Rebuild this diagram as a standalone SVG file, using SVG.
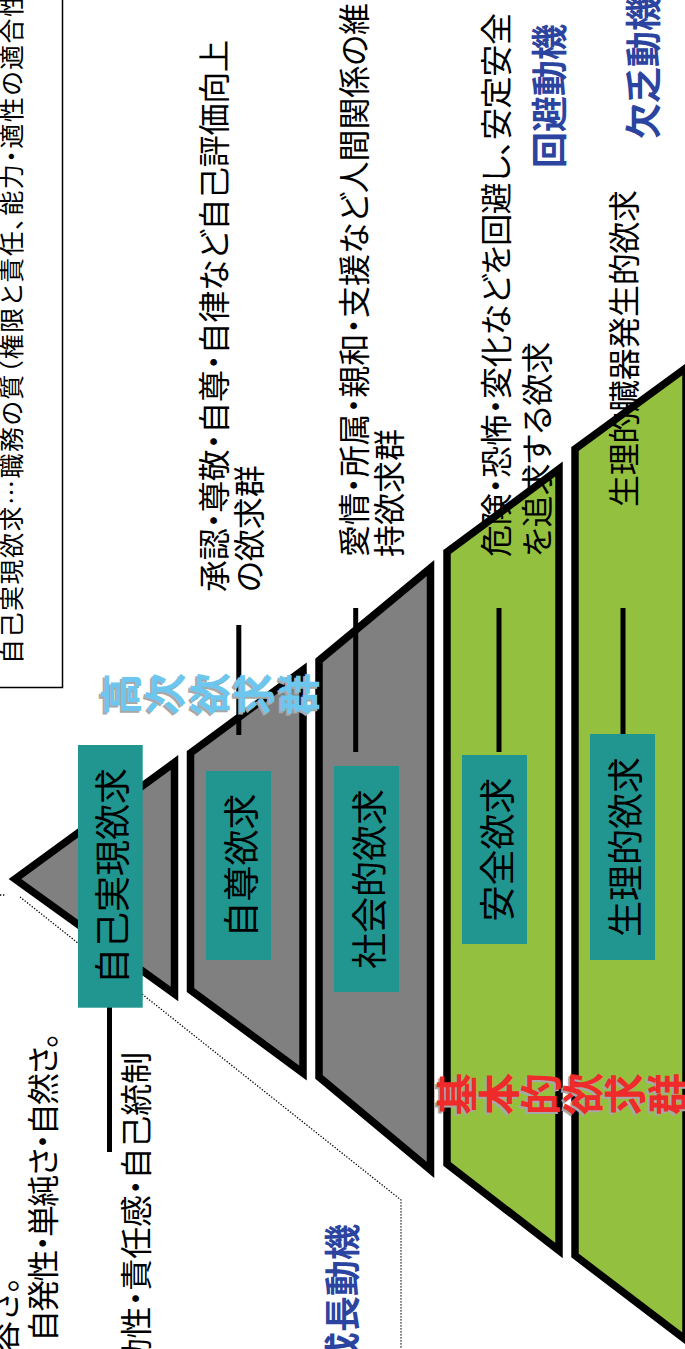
<svg xmlns="http://www.w3.org/2000/svg" xmlns:xlink="http://www.w3.org/1999/xlink" width="685" height="1349" viewBox="0 0 685 1349">
<style>
.lvl{stroke:#000;stroke-width:7.5;stroke-linejoin:miter;stroke-miterlimit:10}
.g{fill:#808080}
.gr{fill:#93c13f}
.box{fill:#21958f}
.lbl{font-family:"Noto Sans CJK JP",sans-serif;font-size:36px;fill:#000;dominant-baseline:central;text-anchor:middle}
.d{font-family:"Noto Sans CJK JP",sans-serif;font-size:32px;fill:#000;dominant-baseline:central;font-feature-settings:"palt"}
.mot{font-family:"Noto Sans CJK JP",sans-serif;font-size:36px;font-weight:bold;fill:#2b44a0;dominant-baseline:central}
.grp text{font-family:"Noto Sans CJK JP",sans-serif;font-size:42px;font-weight:bold;dominant-baseline:central;text-anchor:middle}
.conn{stroke:#000;stroke-width:5;fill:none}
.dot{stroke:#000;stroke-width:1.3;fill:none;stroke-dasharray:1.3 1.7}
</style>
<defs>
<g id="hiText" class="grp">
<text transform="translate(118,694) rotate(-90)">高</text>
<text transform="translate(162.5,694) rotate(-90)">次</text>
<text transform="translate(207,694) rotate(-90)">欲</text>
<text transform="translate(251.5,694) rotate(-90)">求</text>
<text transform="translate(296,694) rotate(-90)">群</text>
</g>
<g id="baseText" class="grp">
<text transform="translate(454,1094) rotate(-90)">基</text>
<text transform="translate(496.2,1094) rotate(-90)">本</text>
<text transform="translate(538.4,1094) rotate(-90)">的</text>
<text transform="translate(580.6,1094) rotate(-90)">欲</text>
<text transform="translate(622.8,1094) rotate(-90)">求</text>
<text transform="translate(665,1094) rotate(-90)">群</text>
</g>
</defs>
<rect width="685" height="1349" fill="#fff"/>
<g id="note-box">
<rect x="-5" y="-5" width="67.5" height="692.5" fill="#fff" stroke="#000" stroke-width="1.5"/>
<text class="d" style="font-size:25px" transform="translate(10,664) rotate(-90)" textLength="672" lengthAdjust="spacing">自己実現欲求…職務の質（権限と責任、能力・適性の適合性</text>
</g>
<g id="notes-left">
<text class="d" transform="translate(2,1385) rotate(-90)">受容さ。</text>
<text class="d" transform="translate(41,1342) rotate(-90)" textLength="310" lengthAdjust="spacing">自発性・単純さ・自然さ。</text>
<text class="d" transform="translate(134,1402) rotate(-90)" textLength="350" lengthAdjust="spacing">能動性・責任感・自己統制</text>
</g>
<g id="dotted-guide">
<polyline class="dot" points="20,897 401,1200 401,1349"/>
<polyline class="dot" points="0,895 5,895"/>
</g>
<g id="level-self-actualization">
<polygon class="lvl g" points="15,879 174.5,762.5 174.5,994"/>
</g>
<g id="level-esteem">
<polygon class="lvl g" points="190.5,753 303,670 303,1073 190.5,990"/>
</g>
<g id="level-social">
<polygon class="lvl g" points="319,660.5 430.5,568 430.5,1170 319,1077"/>
</g>
<g id="level-safety">
<polygon class="lvl gr" points="447,552 559,469 559,1250.5 447,1164"/>
</g>
<g id="level-physiological">
<polygon class="lvl gr" points="575,449 686,368 686,1340 575,1255.5"/>
</g>
<g id="connectors">
<line class="conn" x1="109.5" y1="1007" x2="109.5" y2="1152"/>
<line class="conn" x1="238.8" y1="625" x2="238.8" y2="735"/>
<line class="conn" x1="355.7" y1="608" x2="355.7" y2="752"/>
<line class="conn" x1="499" y1="608" x2="499" y2="752"/>
<line class="conn" x1="623" y1="608" x2="623" y2="752"/>
</g>
<g id="node-self-actualization">
<rect class="box" x="78" y="745" width="64.7" height="262.7"/>
<text class="lbl" transform="translate(110.3,876) rotate(-90)">自己実現欲求</text>
</g>
<g id="node-esteem">
<rect class="box" x="206" y="771" width="65" height="189"/>
<text class="lbl" transform="translate(238.5,865.5) rotate(-90)">自尊欲求</text>
</g>
<g id="node-social">
<rect class="box" x="334" y="766" width="65" height="226"/>
<text class="lbl" transform="translate(366.5,879) rotate(-90)">社会的欲求</text>
</g>
<g id="node-safety">
<rect class="box" x="462" y="755" width="65" height="189"/>
<text class="lbl" transform="translate(494.5,849.5) rotate(-90)">安全欲求</text>
</g>
<g id="node-physiological">
<rect class="box" x="590" y="734" width="65" height="226"/>
<text class="lbl" transform="translate(622.5,847) rotate(-90)">生理的欲求</text>
</g>
<g id="desc-esteem">
<text class="d" transform="translate(212,592) rotate(-90)" textLength="552" lengthAdjust="spacing">承認・尊敬・自尊・自律など自己評価向上</text>
<text class="d" transform="translate(247,592) rotate(-90)">の欲求群</text>
</g>
<g id="desc-social">
<text class="d" transform="translate(352,557) rotate(-90)" textLength="554" lengthAdjust="spacing">愛情・所属・親和・支援など人間関係の維</text>
<text class="d" transform="translate(387,557) rotate(-90)">持欲求群</text>
</g>
<g id="desc-safety">
<text class="d" transform="translate(494,557) rotate(-90)" textLength="544" lengthAdjust="spacing">危険・恐怖・変化などを回避し、安定安全</text>
<text class="d" transform="translate(535,557) rotate(-90)">を追求する欲求</text>
</g>
<g id="desc-physiological">
<text class="d" transform="translate(622,507) rotate(-90)" textLength="317" lengthAdjust="spacing">生理的臓器発生的欲求</text>
</g>
<g id="motives">
<text class="mot" transform="translate(547,168) rotate(-90)">回避動機</text>
<text class="mot" transform="translate(641,139) rotate(-90)">欠乏動機</text>
<text class="mot" transform="translate(340,1224) rotate(-90)" text-anchor="end">成長動機</text>
</g>
<g id="group-higher">
<use xlink:href="#hiText" fill="#a8a8a8" transform="translate(-2,2)"/>
<use xlink:href="#hiText" fill="#6cc6ee"/>
</g>
<g id="group-basic">
<use xlink:href="#baseText" fill="#a8a8a8" transform="translate(-2,2)"/>
<use xlink:href="#baseText" fill="#ee2a2a"/>
</g>
</svg>
